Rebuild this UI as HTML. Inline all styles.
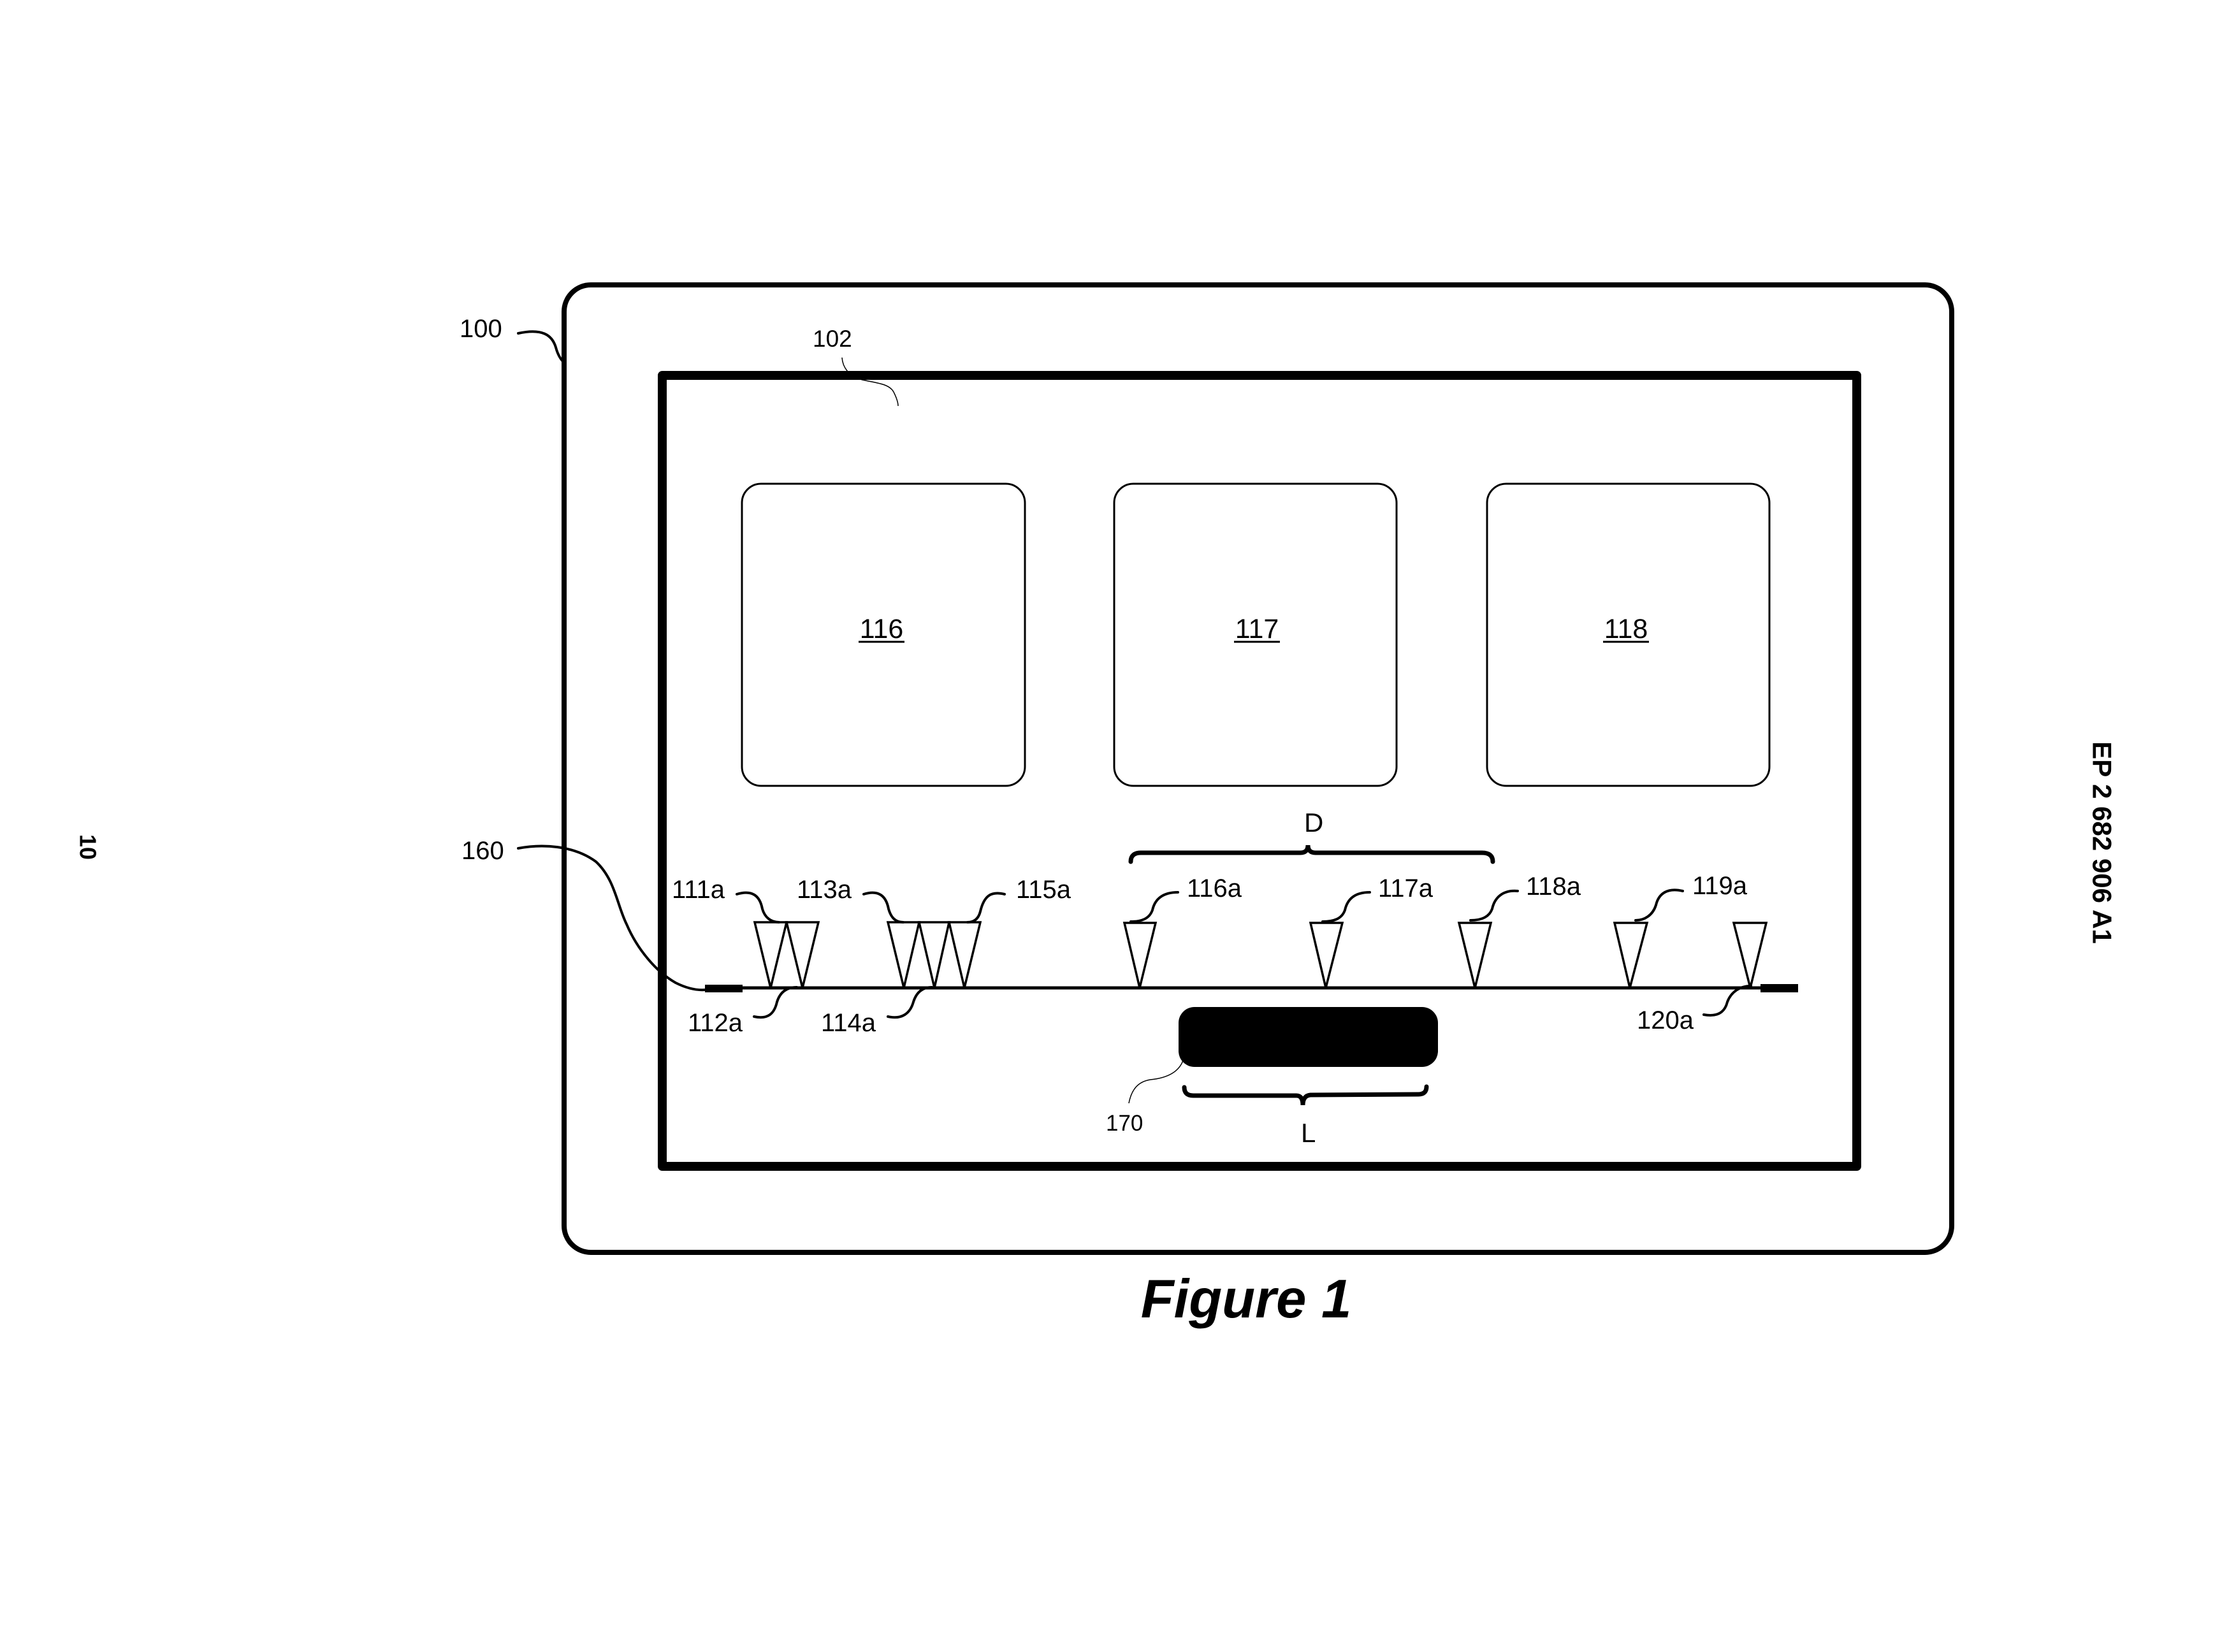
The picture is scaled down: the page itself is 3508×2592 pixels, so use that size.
<!DOCTYPE html>
<html><head><meta charset="utf-8"><style>html,body{margin:0;padding:0;background:#fff}svg{display:block}</style></head>
<body>
<svg width="3508" height="2592" viewBox="0 0 3508 2592" xmlns="http://www.w3.org/2000/svg" font-family="Liberation Sans, Arial, sans-serif">
<rect width="3508" height="2592" fill="#fff"/>
<rect x="885" y="447" width="2177" height="1518" rx="42" fill="none" stroke="#000" stroke-width="8"/>
<rect x="1039" y="589" width="1874" height="1241" fill="none" stroke="#000" stroke-width="14" stroke-linejoin="round"/>
<g fill="none" stroke="#000" stroke-width="3">
<rect x="1164" y="759" width="444" height="474" rx="30"/>
<rect x="1748" y="759" width="443" height="474" rx="30"/>
<rect x="2333" y="759" width="443" height="474" rx="30"/>
</g>
<g font-size="43" text-anchor="middle">
<text x="1383" y="1001">116</text>
<text x="1972" y="1001">117</text>
<text x="2551" y="1001">118</text>
</g>
<g stroke="#000" stroke-width="3">
<line x1="1347" y1="1007" x2="1419" y2="1007"/>
<line x1="1936" y1="1007" x2="2008" y2="1007"/>
<line x1="2515" y1="1007" x2="2587" y2="1007"/>
</g>
<line x1="1106" y1="1550" x2="2821" y2="1550" stroke="#000" stroke-width="5"/>
<rect x="1106" y="1545" width="59" height="12" fill="#000"/>
<rect x="2762" y="1544" width="59" height="13" fill="#000"/>
<g fill="#fff" stroke="#000" stroke-width="3.5" stroke-linejoin="miter">
<polygon points="1184,1447 1234,1447 1209,1550"/>
<polygon points="1234,1447 1284,1447 1259,1550"/>
<polygon points="1393,1447 1442,1447 1418,1550"/>
<polygon points="1442,1447 1489,1447 1466,1550"/>
<polygon points="1489,1447 1538,1447 1513,1550"/>
<polygon points="1764,1448 1813,1448 1788,1550"/>
<polygon points="2056,1448 2106,1448 2080,1550"/>
<polygon points="2289,1448 2339,1448 2314,1550"/>
<polygon points="2533,1448 2584,1448 2557,1550"/>
<polygon points="2720,1448 2771,1448 2746,1550"/>
</g>
<rect x="1849" y="1580" width="407" height="94" rx="25" fill="#000"/>
<g fill="none" stroke="#000" stroke-width="7" stroke-linecap="round">
<path d="M1774,1352 Q1774,1338 1790,1338 L2040,1338 Q2052,1338 2052,1326 Q2052,1338 2064,1338 L2325,1338 Q2342,1338 2342,1352"/>
<path d="M1858,1706 Q1858,1719 1872,1719 L2034,1719 Q2044,1719 2044,1734 Q2044,1719 2056,1718 L2225,1717 Q2238,1717 2238,1705"/>
</g>
<g fill="none" stroke="#000" stroke-width="4" stroke-linecap="round">
<path d="M813,523 C850,515 866,525 872,545 C876,560 882,566 884,568"/>
<path d="M813,1331 C850,1324 900,1326 935,1352 C965,1380 968,1420 983,1450 C1000,1490 1030,1525 1060,1542 C1080,1552 1095,1554 1107,1553"/>
<path d="M1156,1403 C1180,1396 1192,1405 1196,1426 C1200,1440 1210,1447 1222,1447"/>
<path d="M1355,1403 C1378,1396 1390,1405 1394,1426 C1398,1440 1405,1447 1417,1447"/>
<path d="M1576,1403 C1555,1398 1544,1405 1538,1430 C1535,1442 1528,1447 1518,1447"/>
<path d="M1848,1400 C1825,1400 1812,1410 1808,1428 C1803,1442 1790,1446 1774,1446"/>
<path d="M2149,1400 C2126,1400 2114,1410 2110,1428 C2105,1442 2092,1446 2075,1446"/>
<path d="M2381,1398 C2358,1396 2345,1408 2341,1426 C2336,1440 2322,1444 2307,1444"/>
<path d="M2640,1398 C2615,1392 2602,1403 2598,1420 C2593,1436 2580,1444 2566,1444"/>
<path d="M1183,1595 C1205,1600 1215,1590 1219,1572 C1224,1556 1235,1549 1250,1549"/>
<path d="M1393,1595 C1415,1600 1428,1590 1433,1572 C1438,1556 1448,1549 1462,1549"/>
<path d="M2673,1592 C2695,1596 2706,1588 2710,1572 C2716,1556 2730,1547 2747,1547"/>
</g>
<g fill="none" stroke="#000" stroke-width="1.5">
<path d="M1321,561 C1322,575 1330,590 1353,596 C1375,601 1395,602 1402,615 C1407,625 1409,632 1409,637"/>
<path d="M1771,1731 C1775,1710 1785,1697 1805,1694 C1835,1691 1850,1680 1856,1664"/>
</g>
<g font-size="40" fill="#000">
<text x="721" y="529">100</text>
<text x="1275" y="544" font-size="37">102</text>
<text x="724" y="1348">160</text>
<text x="1054" y="1409">111a</text>
<text x="1250" y="1409">113a</text>
<text x="1594" y="1409">115a</text>
<text x="1862" y="1407">116a</text>
<text x="2162" y="1407">117a</text>
<text x="2394" y="1404">118a</text>
<text x="2655" y="1403">119a</text>
<text x="1079" y="1618">112a</text>
<text x="1288" y="1618">114a</text>
<text x="2568" y="1614">120a</text>
<text x="1735" y="1774" font-size="35">170</text>
<text x="2046" y="1305" font-size="42">D</text>
<text x="2041" y="1792" font-size="42">L</text>
</g>
<text x="1955" y="2067" font-size="85" font-weight="bold" font-style="italic" text-anchor="middle">Figure 1</text>
<text x="3298" y="1322" font-size="42" font-weight="bold" text-anchor="middle" dominant-baseline="central" transform="rotate(90 3298 1322)">EP 2 682 906 A1</text>
<text x="138" y="1329" font-size="36" font-weight="bold" text-anchor="middle" dominant-baseline="central" transform="rotate(90 138 1329)">10</text>
</svg>
</body></html>
